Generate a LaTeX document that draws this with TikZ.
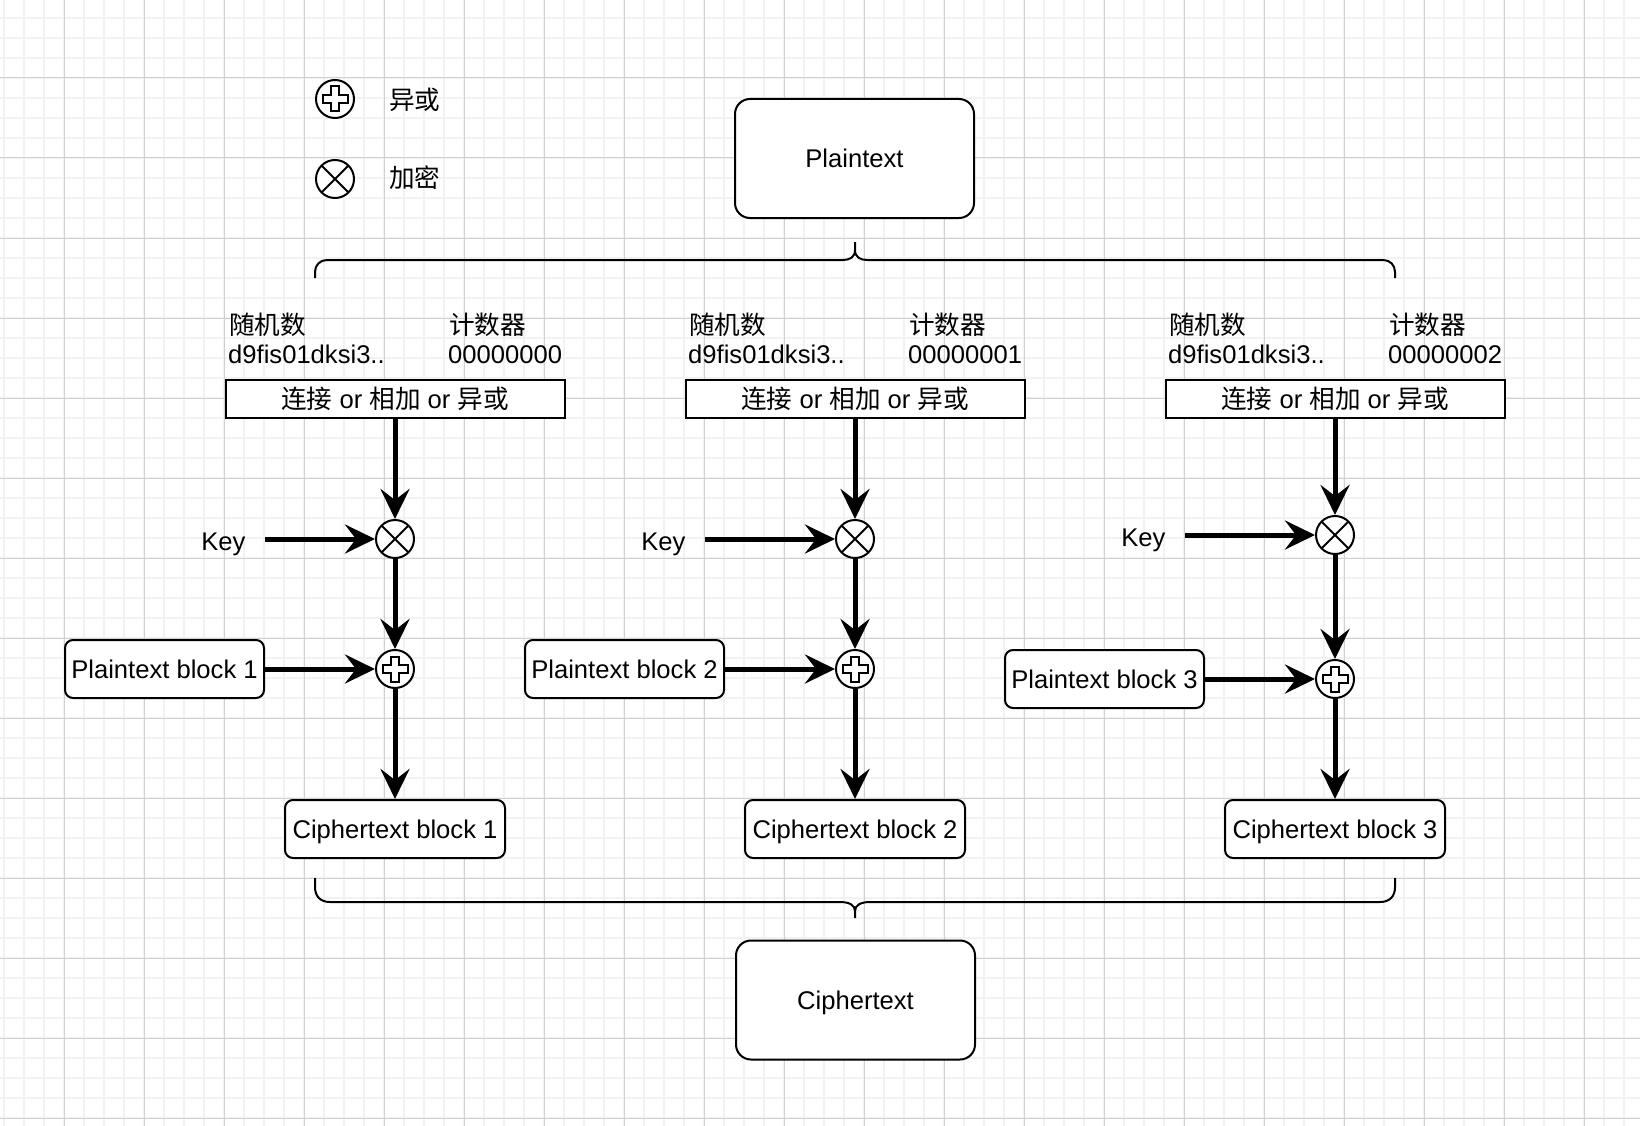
\documentclass[tikz,border=0pt]{standalone}
\usepackage{fontspec}
\setmainfont{Liberation Sans}
\newfontfamily\cjk{Noto Sans CJK SC}
\usetikzlibrary{arrows.meta}
\newcommand\dfont{\fontsize{25.6pt}{30pt}\selectfont}
\definecolor{gridminor}{HTML}{F2F2F2}
\definecolor{gridmajor}{HTML}{D0D0D0}
\begin{document}
\begin{tikzpicture}[x=1pt,y=-1pt,
  every node/.style={font=\dfont, inner sep=0pt, text height=18.4pt, text depth=0pt},
  smallbox/.style={draw, fill=white, line width=2pt, rounded corners=8pt, minimum height=58pt},
  bigbox/.style={draw, fill=white, line width=2pt, rounded corners=15pt, minimum width=239pt, minimum height=119pt},
  combine/.style={draw, fill=white, line width=2pt, minimum width=339pt, minimum height=38pt},
  encop/.style={circle, draw, fill=white, line width=2pt, minimum size=38pt,
    path picture={\draw[line width=2pt]
      (path picture bounding box.north west) -- (path picture bounding box.south east)
      (path picture bounding box.north east) -- (path picture bounding box.south west);}},
  xorop/.style={circle, draw, fill=white, line width=2pt, minimum size=38pt,
    path picture={\draw[line width=2pt]
      (path picture bounding box.center) ++(4,-12.5) -- ++(0,8.5) -- ++(8.5,0)
      -- ++(0,8) -- ++(-8.5,0) -- ++(0,8.5) -- ++(-8,0) -- ++(0,-8.5)
      -- ++(-8.5,0) -- ++(0,-8) -- ++(8.5,0) -- ++(0,-8.5) -- cycle;}},
  lbl/.style={anchor=west},
  arr/.style={line width=5pt, -{Stealth[length=30pt,width=29pt,inset=11pt]}},
  brace/.style={line width=2pt}]

% page and background grid
\useasboundingbox (0,0) rectangle (1640,1126);
\fill[white] (0,0) rectangle (1640,1126);
\foreach \x in {4,24,...,1640} \draw[gridminor, line width=1.2pt] (\x,0) -- (\x,1126);
\foreach \y in {18,38,...,1126} \draw[gridminor, line width=1.2pt] (0,\y) -- (1640,\y);
\foreach \x in {64,144,...,1640} \draw[gridmajor, line width=1pt] (\x,0) -- (\x,1126);
\foreach \y in {78,158,...,1126} \draw[gridmajor, line width=1pt] (0,\y) -- (1640,\y);

% legend
\node[xorop] (legxor) at (335,99) {};
\node[encop] (legenc) at (335,179) {};
\node[lbl] (legxortxt) at (389,100) {\cjk 异或};
\node[lbl] (legenctxt) at (389,178) {\cjk 加密};

% whole message
\node[bigbox] (pt) at (854.5,158.5) {Plaintext};
\node[bigbox] (ct) at (855.5,1000) {Ciphertext};

% split brace
\draw[brace] (315,278) -- (315,272) .. controls (315,265) and (320,260) .. (327,260)
  -- (843,260) .. controls (850,260) and (855,257) .. (855,250) -- (855,242)
  (855,250) .. controls (855,257) and (860,260) .. (867,260)
  -- (1383,260) .. controls (1390,260) and (1395,265) .. (1395,272) -- (1395,278);

% join brace
\draw[brace] (315,878) -- (315,887) .. controls (315,896) and (320,902) .. (330,902)
  -- (840,902) .. controls (849,902) and (855,905) .. (855,911) -- (855,918)
  (855,911) .. controls (855,905) and (861,902) .. (870,902)
  -- (1380,902) .. controls (1390,902) and (1395,896) .. (1395,887) -- (1395,878);

% one column per counter block
\foreach \i/\dx/\ye/\yx/\cnt/\kx/\ky in
  {1/0/539/669/00000000/265/541,
   2/460/539/669/00000001/705/541,
   3/940/535/679/00000002/1185/537}{
  \node[lbl] (nonce\i) at (229+\dx,325) {\cjk 随机数};
  \node[lbl] (nval\i) at (228+\dx,354) {d9fis01dksi3..};
  \node[lbl] (ctr\i) at (449+\dx,325) {\cjk 计数器};
  \node[lbl] (cval\i) at (448+\dx,354) {\cnt};
  \node[combine] (cat\i) at (395+\dx,399) {{\cjk 连接} or {\cjk 相加} or {\cjk 异或}};
  \node[encop] (enc\i) at (395+\dx,\ye) {};
  \node[xorop] (xor\i) at (395+\dx,\yx) {};
  \node[anchor=east, outer xsep=19.5pt] (key\i) at (\kx,\ky) {Key};
  \node[smallbox, minimum width=199pt] (pb\i) at (164.5+\dx,\yx) {Plaintext block \i};
  \node[smallbox, minimum width=220pt] (cb\i) at (395+\dx,829) {Ciphertext block \i};
  \draw[arr] (cat\i.south) -- (enc\i.north);
  \draw[arr] (key\i.east |- enc\i.west) -- (enc\i.west);
  \draw[arr] (enc\i.south) -- (xor\i.north);
  \draw[arr] (pb\i.east) -- (xor\i.west);
  \draw[arr] (xor\i.south) -- (cb\i.north);
}
\end{tikzpicture}
\end{document}
